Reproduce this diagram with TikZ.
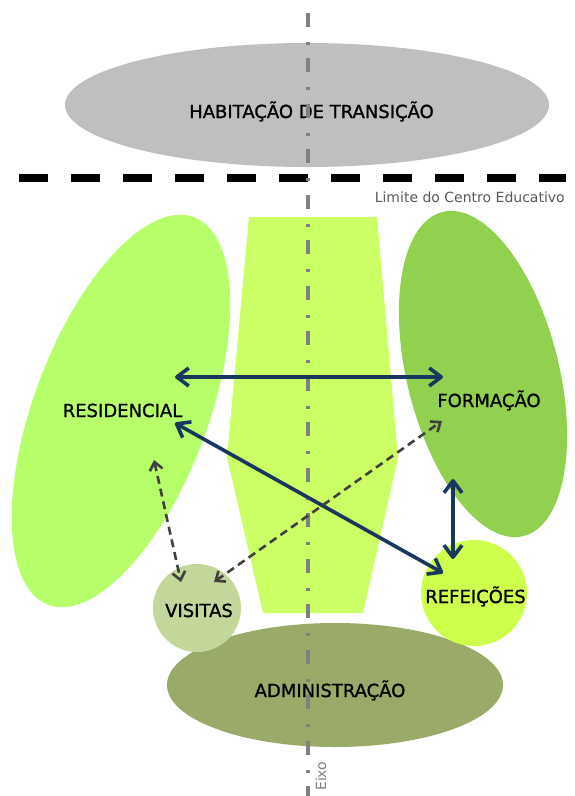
\documentclass[tikz,border=0pt]{standalone}
\usepackage{fontspec}
\setmainfont{DejaVu Sans}
\newfontfamily\rotfont[FakeBold=1.2]{DejaVu Sans}
\usepackage{tikz}
\usetikzlibrary{shapes.geometric,arrows.meta}

\definecolor{cinza}{HTML}{BFBFBF}
\definecolor{verdeRes}{HTML}{B6FF6B}
\definecolor{verdeNuc}{HTML}{CCFF66}
\definecolor{verdeFor}{HTML}{92D050}
\definecolor{verdeRef}{HTML}{CFFF4D}
\definecolor{verdeVis}{HTML}{C4D79B}
\definecolor{verdeAdm}{HTML}{9AAB69}
\definecolor{azul}{HTML}{17375E}
\definecolor{tracejado}{HTML}{404040}
\definecolor{eixocor}{HTML}{808080}

\begin{document}
\begin{tikzpicture}[x=1pt,y=-1pt]
          \tikzset{zona/.style = {
              shape = ellipse,
              draw = none,
              inner sep = 0pt,
              outer sep = 0pt}}
          \tikzset{roda/.style = {
              shape = circle,
              draw = none,
              inner sep = 0pt,
              outer sep = 0pt}}
          \tikzset{rotulo/.style = {
              font = \rotfont\fontsize{18}{20}\selectfont,
              inner sep = 0pt,
              anchor = base}}
          \tikzset{ligacao/.style = {
              draw = azul,
              line width = 3.6pt,
              line cap = round,
              {Straight Barb[length=12pt,width=18pt,line join=round]}-{Straight Barb[length=12pt,width=18pt,line join=round]}}}
          \tikzset{visita/.style = {
              draw = tracejado,
              line width = 2.6pt,
              dash pattern = on 8pt off 5pt,
              {Straight Barb[length=8pt,width=13pt]}-{Straight Barb[length=8pt,width=13pt]}}}
          \useasboundingbox (0,0) rectangle (575,796);
          \fill[white] (0,0) rectangle (575,796);
          %% zonas
          \node[zona, fill=cinza, minimum width=484pt, minimum height=124pt] (zHab) at (307,105) {};
          \fill[verdeNuc] (249,217) -- (377,217) -- (398,458) -- (363,613)
            -- (263,613) -- (227,457) -- cycle;
          \node[zona, fill=verdeRes, rotate=69.4, minimum width=414pt, minimum height=174pt] (zRes) at (121,411) {};
          \node[zona, fill=verdeFor, rotate=104, minimum width=334pt, minimum height=152pt] (zFor) at (483,374) {};
          \node[zona, fill=verdeAdm, minimum width=336pt, minimum height=124pt] (zAdm) at (335,685) {};
          \node[roda, fill=verdeVis, minimum size=88pt] (zVis) at (197,608) {};
          \node[roda, fill=verdeRef, minimum size=106pt] (zRef) at (474,593) {};
          %% rotulos
          \node[rotulo] (hab) at (311.5,118) {HABITAÇÃO DE TRANSIÇÃO};
          \node[rotulo] (res) at (122.5,417) {RESIDENCIAL};
          \node[rotulo] (for) at (489,407) {FORMAÇÃO};
          \node[rotulo] (ref) at (475.5,603) {REFEIÇÕES};
          \node[rotulo] (vis) at (199,617) {VISITAS};
          \node[rotulo] (adm) at (330,697) {ADMINISTRAÇÃO};
          \node[font=\fontsize{14}{16}\selectfont, text=black!65, inner sep=0pt, anchor=base east] (lim) at (565,202) {Limite do Centro Educativo};
          %% limite e eixo
          \coordinate (limO) at (19,178);
          \coordinate (limE) at (566,178);
          \draw[line width=7.4pt, dash pattern=on 29pt off 23pt] (limO) -- (limE);
          \coordinate (eixoN) at (308,0);
          \coordinate (eixoS) at (308,796);
          \draw[eixocor, line width=4pt, dash pattern=on 14pt off 15pt on 3pt off 13.5pt, dash phase=33pt] (eixoN) -- (eixoS);
          \node[font=\fontsize{14}{16}\selectfont, text=eixocor, inner sep=0pt, rotate=90, anchor=base west] (eixo) at (326,791) {Eixo};
          %% ligacoes
          \coordinate (resA) at (175,377);
          \coordinate (forA) at (443,377);
          \coordinate (resB) at (175,423);
          \coordinate (refB) at (443,573);
          \coordinate (forC) at (453,479);
          \coordinate (refC) at (453,559);
          \coordinate (resD) at (154,460);
          \coordinate (visD) at (181,582);
          \coordinate (visE) at (214,582);
          \coordinate (forE) at (442,421);
          \draw[ligacao] (resA) -- (forA);
          \draw[ligacao] (resB) -- (refB);
          \draw[ligacao] (forC) -- (refC);
          \draw[visita] (resD) -- (visD);
          \draw[visita] (visE) -- (forE);
\end{tikzpicture}
\end{document}
